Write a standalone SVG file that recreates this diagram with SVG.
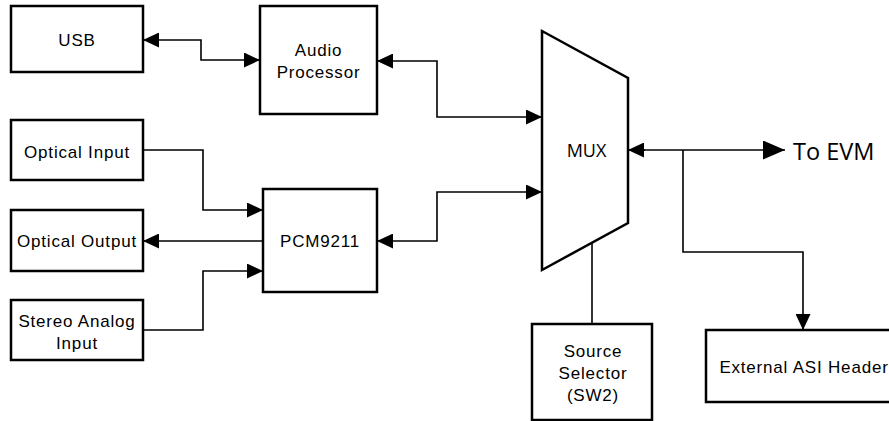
<svg xmlns="http://www.w3.org/2000/svg" width="889" height="421" viewBox="0 0 889 421">
<style>
.box{fill:#fff;stroke:#000;stroke-width:2.5}
.lbl{font-family:"Liberation Sans",Arial,sans-serif;font-size:17px;letter-spacing:0.8px;fill:#000;text-anchor:middle}
.sg{font-family:"Open Sans","Noto Sans",sans-serif;fill:#000}
.con{fill:none;stroke:#000;stroke-width:1.6}
</style>
<defs>
<marker id="ah" markerUnits="userSpaceOnUse" markerWidth="16" markerHeight="15" refX="16" refY="7.5" orient="auto-start-reverse" viewBox="0 0 16 15">
<path d="M0,0 L16,7.5 L0,15 z" fill="#000"/>
</marker>
<marker id="ahL" markerUnits="userSpaceOnUse" markerWidth="22" markerHeight="19" refX="22" refY="9.5" orient="auto-start-reverse" viewBox="0 0 22 19">
<path d="M0,0 L22,9.5 L0,19 z" fill="#000"/>
</marker>
</defs>
<g id="connectors">
<path class="con" d="M143,40 H201 V60 H260" marker-start="url(#ah)" marker-end="url(#ah)"/>
<path class="con" d="M377,61 H437 V117 H542" marker-start="url(#ah)" marker-end="url(#ah)"/>
<path class="con" d="M377,241 H437 V192 H542" marker-start="url(#ah)" marker-end="url(#ah)"/>
<path class="con" d="M143,150 H203 V210 H263" marker-end="url(#ah)"/>
<path class="con" d="M263,241 H143" marker-end="url(#ah)"/>
<path class="con" d="M143,330 H203 V271 H263" marker-end="url(#ah)"/>
<path class="con" d="M628,150 H645" marker-start="url(#ah)"/>
<path class="con" d="M640,150 H785" marker-end="url(#ahL)"/>
<path class="con" d="M683,150 V252 H803 V330" marker-end="url(#ah)"/>
<path class="con" d="M592,243 V324"/>
</g>
<g id="usb"><rect class="box" x="11" y="6" width="132" height="66"/><text class="lbl" x="77" y="46">USB</text></g>
<g id="audio-processor"><rect class="box" x="260" y="6" width="117" height="108"/><text class="lbl" x="318.5" y="56">Audio</text><text class="lbl" x="318.5" y="78">Processor</text></g>
<g id="optical-input"><rect class="box" x="11" y="120" width="132" height="60"/><text class="lbl" x="77" y="158">Optical Input</text></g>
<g id="optical-output"><rect class="box" x="11" y="210" width="132" height="61"/><text class="lbl" x="77" y="247">Optical Output</text></g>
<g id="pcm9211"><rect class="box" x="263" y="189" width="114" height="103"/><text class="lbl" x="320" y="247">PCM9211</text></g>
<g id="stereo-analog"><rect class="box" x="11" y="300" width="132" height="60"/><text class="lbl" x="77" y="327">Stereo Analog</text><text class="lbl" x="77" y="349">Input</text></g>
<g id="mux"><path class="box" d="M542,31 L628,78 L628,223 L542,270 Z"/><text class="sg" x="586.5" y="157" font-size="18" text-anchor="middle">MUX</text></g>
<g id="to-evm"><text class="sg" x="793" y="160" font-size="23.5">To EVM</text></g>
<g id="source-selector"><rect class="box" x="532" y="324" width="120" height="96"/><text class="lbl" x="593" y="357">Source</text><text class="lbl" x="593" y="379">Selector</text><text class="lbl" x="593" y="401">(SW2)</text></g>
<g id="ext-asi"><rect class="box" x="706" y="330" width="196" height="72"/><text class="lbl" x="804" y="373">External ASI Header</text></g>
</svg>
